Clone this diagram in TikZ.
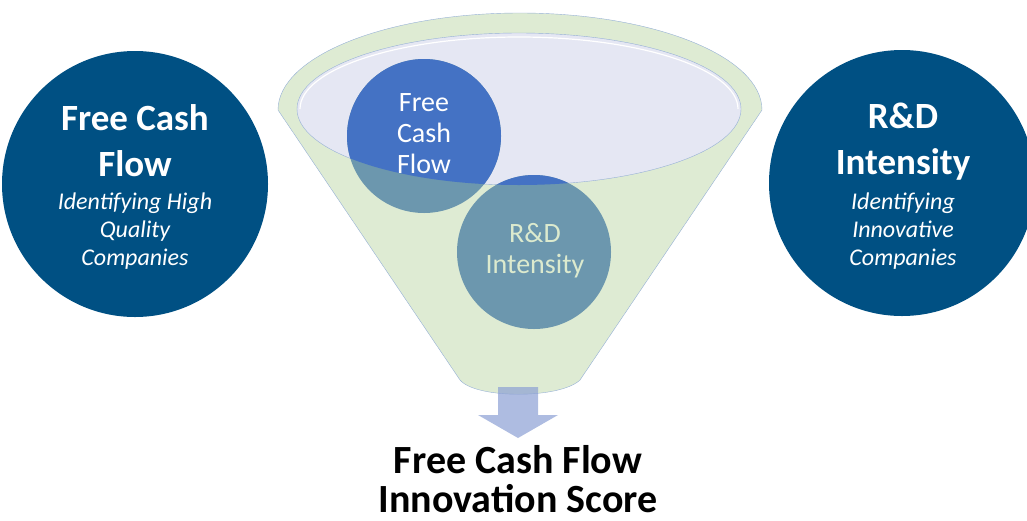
\documentclass[tikz,border=0pt]{standalone}
\usepackage{fontspec}
\setmainfont{Carlito}
\usepackage{tikz}
\usetikzlibrary{positioning,shapes}
\definecolor{darkblue}{RGB}{0,80,131}
\definecolor{midblue}{RGB}{68,114,196}
\definecolor{tealgrey}{RGB}{108,151,174}
\definecolor{funnelgreen}{RGB}{222,235,211}
\definecolor{funnelline}{RGB}{150,176,214}
\definecolor{lavender}{RGB}{229,231,243}
\definecolor{arrowblue}{RGB}{140,160,212}
\definecolor{palegreen}{RGB}{220,234,206}
\tikzstyle{bigc}=[circle, fill=darkblue, minimum size=266pt, inner sep=0pt]
\tikzstyle{smallc}=[circle, fill=tealgrey, minimum size=154pt, inner sep=0pt]
\tikzstyle{head}=[text=white, align=center, font=\fontsize{37}{46}\selectfont\bfseries]
\tikzstyle{sub}=[text=white, align=center, font=\fontsize{24}{28}\selectfont\itshape]
\tikzstyle{inner}=[align=center, font=\fontsize{28}{31}\selectfont]
\tikzstyle{score}=[anchor=base, inner sep=0pt, font=\fontsize{40}{40}\selectfont\bfseries]

\begin{document}
\begin{tikzpicture}[x=1pt,y=-1pt]
\useasboundingbox (0,0) rectangle (1027,520);

% side circles
\node[bigc] (fcfbig) at (135,184) {};
\node[head] (fcfhead) at (135,141) {Free Cash\\Flow};
\node[sub] (fcfsub) at (135,231) {Identifying High\\Quality\\Companies};

\node[bigc] (rndbig) at (902,183) {};
\node[head] (rndhead) at (903,142) {R\&D\\Intensity};
\node[sub] (rndsub) at (903,231) {Identifying\\Innovative\\Companies};

% funnel
\fill[funnelgreen] (278,110) arc[start angle=180, end angle=360, x radius=242, y radius=97]
  -- (580,380) .. controls (560,399) and (476,399) .. (460,380) -- cycle;
\draw[funnelline] (278,110) arc[start angle=180, end angle=360, x radius=242, y radius=97]
  -- (580,380) .. controls (560,399) and (476,399) .. (460,380) -- cycle;
\fill[lavender] (519,109) ellipse[x radius=222, y radius=76];
\draw[funnelline] (519,109) ellipse[x radius=222, y radius=76];
\draw[white, line width=1.2pt] (300,109) arc[start angle=180, end angle=360, x radius=219, y radius=72];

% inner circles
\node[smallc] (fcf) at (424,136) {};
\node[smallc] (rnd) at (534,252) {};
\begin{scope}
  \clip (519,109) ellipse[x radius=222, y radius=76];
  \fill[midblue] (fcf.center) circle[radius=77];
  \fill[midblue] (rnd.center) circle[radius=77];
\end{scope}
\node[inner, text=white] (fcftext) at (424,134) {Free\\Cash\\Flow};
\node[inner, text=palegreen] (rndtext) at (535,251) {R\&D\\Intensity};

% output arrow
\coordinate (fbot) at (518,387);
\fill[arrowblue, opacity=0.7] (498,387) -- (538,387) -- (538,415) -- (558,415)
  -- (518,438) -- (478,415) -- (498,415) -- cycle;

\node[score] (scoretop) at (518,473) {Free Cash Flow};
\node[score] (scorebot) at (518,512) {Innovation Score};
\end{tikzpicture}
\end{document}
